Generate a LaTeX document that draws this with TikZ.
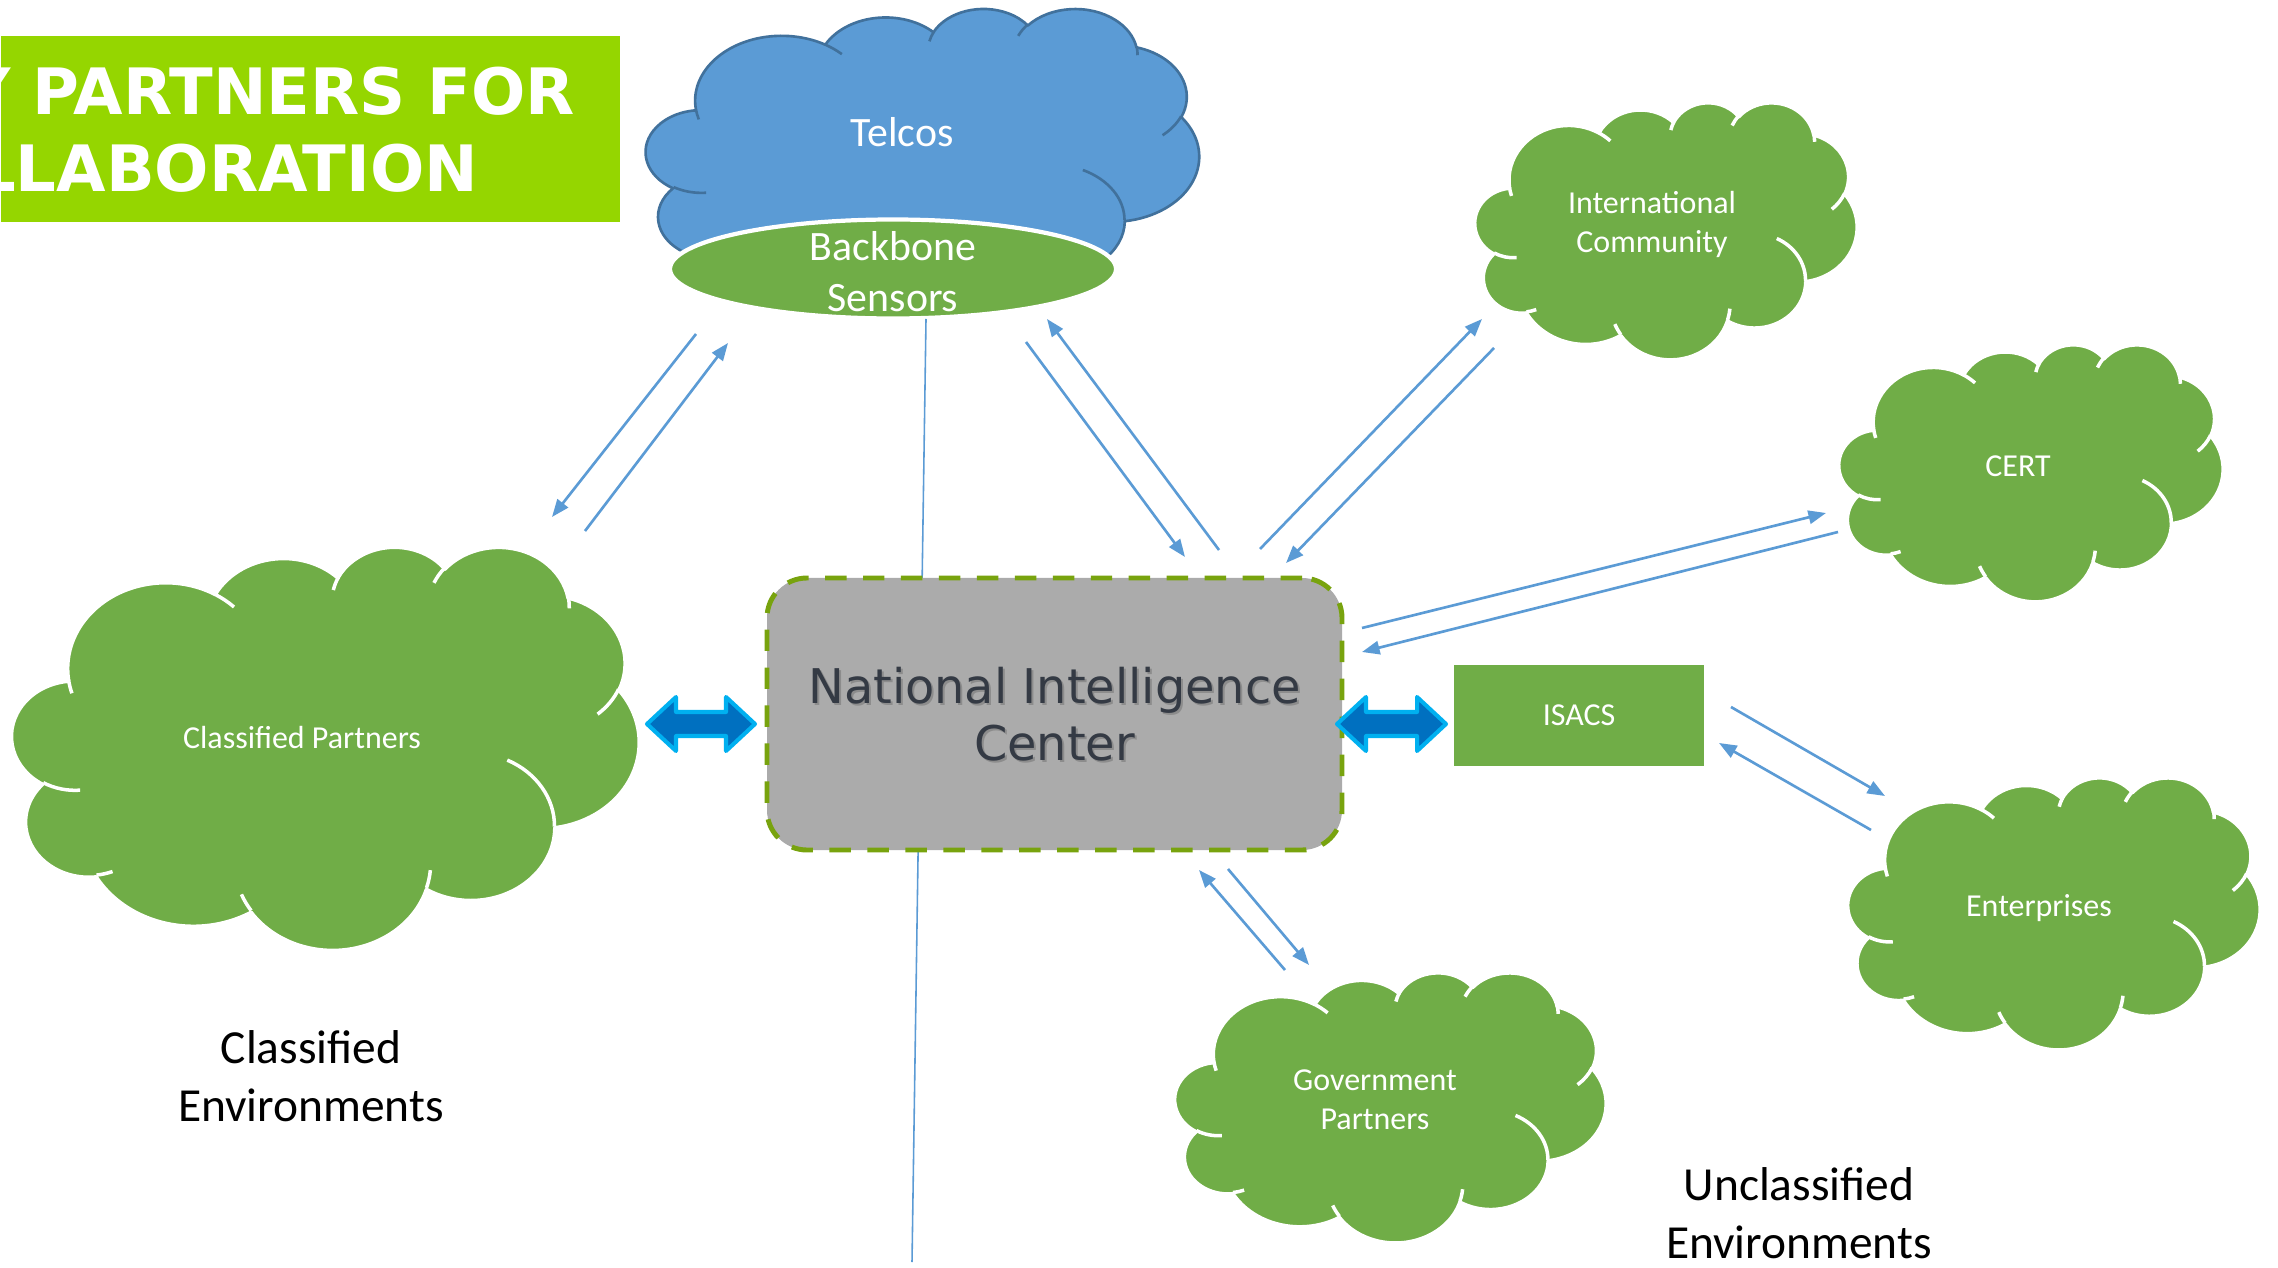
\documentclass[tikz,border=0pt]{standalone}
\usepackage{fontspec}
\setmainfont{Carlito}
\newfontfamily\hubfont{DejaVu Sans}
\usetikzlibrary{arrows.meta,shapes.geometric}

\definecolor{bannergreen}{HTML}{95D600}
\definecolor{leafgreen}{HTML}{70AD47}
\definecolor{skyblue}{HTML}{5B9BD5}
\definecolor{skyedge}{HTML}{41719C}
\definecolor{hubgray}{HTML}{ABABAB}
\definecolor{hubdash}{HTML}{78A30E}
\definecolor{hubtext}{HTML}{343A44}
\definecolor{pipefill}{HTML}{0070C0}
\definecolor{pipeedge}{HTML}{00B0F0}

% Cloud outline built from elliptical arcs in a 43.2 x 43.2 box, y pointing down.
% Arguments: name, x radius, y radius, start angle, sweep (angles measured on the ellipse as seen).
\newcommand\defcloudarc[5]{%
  \pgfmathsetmacro\cloudtA{atan2(#2*sin(#4),#3*cos(#4))}%
  \pgfmathsetmacro\cloudtB{atan2(#2*sin(#4+#5),#3*cos(#4+#5))}%
  \pgfmathsetmacro\cloudtD{\cloudtB-\cloudtA}%
  \pgfmathsetmacro\cloudtD{\cloudtD+360*(\cloudtD<0)}%
  \expandafter\xdef\csname cloudarc#1\endcsname{arc[start angle=\cloudtA,delta angle=\cloudtD,x radius=#2,y radius=#3]}%
}
% Inner crease: name, start x, start y, x radius, y radius, start angle, sweep.
\newcommand\defcloudcrease[7]{%
  \pgfmathsetmacro\cloudtA{atan2(#4*sin(#6),#5*cos(#6))}%
  \pgfmathsetmacro\cloudtB{atan2(#4*sin(#6+#7),#5*cos(#6+#7))}%
  \pgfmathsetmacro\cloudtD{\cloudtB-\cloudtA}%
  \pgfmathsetmacro\cloudtD{\cloudtD+360*(\cloudtD<0)}%
  \expandafter\xdef\csname cloudcrease#1\endcsname{(#2,#3) arc[start angle=\cloudtA,delta angle=\cloudtD,x radius=#4,y radius=#5]}%
}
\defcloudarc{A}{6.753}{9.190}{-190.48748}{123.78053}
\defcloudarc{B}{5.333}{7.267}{-144.10238}{89.94523}
\defcloudarc{C}{4.365}{5.945}{-145.80792}{99.72302}
\defcloudarc{D}{4.857}{6.595}{-130.98607}{117.24173}
\defcloudarc{E}{5.333}{7.273}{-78.70888}{109.02692}
\defcloudarc{F}{6.775}{9.220}{-46.26725}{130.26900}
\defcloudarc{G}{5.785}{7.867}{0.62502}{114.03333}
\defcloudarc{H}{6.752}{9.215}{22.45160}{115.17255}
\defcloudarc{I}{7.720}{10.543}{66.24263}{75.71102}
\defcloudarc{J}{4.360}{5.918}{-274.94208}{146.73557}
\defcloudarc{K}{4.345}{5.945}{-246.82850}{152.51885}

\defcloudcrease{A}{4.693}{26.177}{4.345}{5.945}{86.74200}{26.42950}
\defcloudcrease{B}{6.928}{34.899}{4.360}{5.918}{73.61047}{11.44747}
\defcloudcrease{C}{16.478}{39.090}{6.752}{9.215}{137.62415}{14.08110}
\defcloudcrease{D}{28.827}{34.751}{6.752}{9.215}{6.45327}{15.99835}
\defcloudcrease{E}{34.129}{22.954}{5.785}{7.867}{-70.29235}{70.91737}
\defcloudcrease{F}{41.798}{15.354}{5.333}{7.273}{30.31803}{27.75150}
\defcloudcrease{G}{38.324}{5.426}{4.857}{6.595}{-13.74433}{14.85890}
\defcloudcrease{H}{29.078}{3.952}{4.857}{6.595}{-149.18145}{18.19537}
\defcloudcrease{I}{22.141}{4.720}{4.365}{5.945}{-163.49427}{17.68635}
\defcloudcrease{J}{14.000}{5.192}{6.753}{9.190}{-66.70695}{12.31935}
\defcloudcrease{K}{4.127}{15.789}{6.753}{9.190}{157.65435}{11.85817}

\def\cloudoutline{(3.9,14.37) \cloudarcA \cloudarcB \cloudarcC \cloudarcD \cloudarcE \cloudarcF \cloudarcG \cloudarcH \cloudarcI \cloudarcJ \cloudarcK -- cycle}
\def\cloudcreases{\cloudcreaseA \cloudcreaseB \cloudcreaseC \cloudcreaseD \cloudcreaseE \cloudcreaseF \cloudcreaseG \cloudcreaseH \cloudcreaseI \cloudcreaseJ \cloudcreaseK}

% A cloud in the frame left, top, width, height (pixels), with fill and stroke styles
\newcommand\drawcloud[6]{%
  \begin{scope}[shift={(#1/100,-#2/100)},xscale=#3/4320,yscale=-#4/4320]
    \fill[#5] \cloudoutline;
    \draw[#6,line join=round] \cloudoutline;
    \draw[#6] \cloudcreases;
  \end{scope}}

% Two-headed block arrow from x #1 to x #2 at height #3 (cm)
\newcommand\twoway[3]{%
  \filldraw[pipe] (#1,#3) -- (#1+0.29,#3+0.27) -- (#1+0.29,#3+0.12) -- (#2-0.29,#3+0.12)
    -- (#2-0.29,#3+0.27) -- (#2,#3) -- (#2-0.29,#3-0.27) -- (#2-0.29,#3-0.12)
    -- (#1+0.29,#3-0.12) -- (#1+0.29,#3-0.27) -- cycle;}

\tikzset{
  pipe/.style={fill=pipefill,draw=pipeedge,line width=1.15pt,line join=round},
  link/.style={draw=skyblue,line width=0.75pt,-{Triangle[length=5pt,width=3.8pt]}},
  cloudlabel/.style={text=white,align=center,inner sep=0,font=\fontsize{9.1}{11.1}\selectfont},
  biglabel/.style={text=white,align=center,inner sep=0,font=\fontsize{11.9}{14.5}\selectfont},
  envlabel/.style={text=black,align=center,inner sep=0,font=\fontsize{13.5}{16.5}\selectfont},
  bannertext/.style={anchor=base east,inner sep=0,text=white,font=\hubfont\bfseries\fontsize{18.2}{22}\selectfont},
  greencloud/.style={fill=leafgreen},
  greenseam/.style={draw=white,line width=1pt},
}

\begin{document}
\begin{tikzpicture}
\useasboundingbox (0,0) rectangle (22.78,-12.68);
\fill[white] (0,0) rectangle (22.78,-12.68);

% title banner
\begin{scope}
  \clip (0,0) rectangle (22.78,-12.68);
  \node[fill=bannergreen,minimum width=6.19cm,minimum height=1.86cm,inner sep=0,anchor=north west] (banner) at (0,-0.35) {};
  \node[bannertext] (bannerA) at (5.76,-1.15) {KEY PARTNERS FOR};
  \node[bannertext] (bannerB) at (4.79,-1.92) {COLLABORATION};
\end{scope}

% telcos cloud with backbone sensors
\drawcloud{646}{8}{553}{305}{fill=skyblue}{draw=skyedge,line width=0.75pt}
\node[ellipse,fill=leafgreen,draw=white,line width=1.2pt,minimum width=4.46cm,minimum height=0.99cm,inner sep=0] (sensors) at (8.93,-2.69) {};
\node[biglabel] (telcos) at (9.02,-1.32) {Telcos};
\node[biglabel] (sensorstext) at (8.93,-2.72) {Backbone\\Sensors};

% line running down behind the center
\coordinate (spinetop) at (9.26,-3.19);
\coordinate (spinebottom) at (9.12,-12.62);
\draw[skyblue,line width=0.45pt] (spinetop) -- (spinebottom);

% partner clouds
\drawcloud{12}{546}{627}{403}{greencloud}{greenseam}
\drawcloud{1475}{102}{382}{257}{greencloud}{greenseam}
\drawcloud{1839}{344}{384}{257}{greencloud}{greenseam}
\drawcloud{1848}{777}{412}{272}{greencloud}{greenseam}
\drawcloud{1175}{972}{431}{270}{greencloud}{greenseam}

\node[cloudlabel] (classified) at (3.02,-7.38) {Classified Partners};
\node[cloudlabel] (intl) at (16.52,-2.24) {International\\Community};
\node[cloudlabel] (cert) at (20.18,-4.66) {CERT};
\node[cloudlabel] (enterprises) at (20.39,-9.08) {Enterprises};
\node[cloudlabel] (gov) at (13.75,-11.0) {Government\\Partners};

% national intelligence center
\node[rectangle,rounded corners=0.4cm,fill=hubgray,draw=hubdash,line width=1.4pt,
      dash pattern=on 6.1pt off 4.7pt,minimum width=5.75cm,minimum height=2.72cm] (hub) at (10.545,-7.14) {};
\node[align=center,inner sep=0,text=black!45,font=\hubfont\fontsize{13.6}{16.2}\selectfont]
  (hubshadow) at ([shift={(0.02,-0.025)}]hub.center) {National Intelligence\\Center};
\node[align=center,inner sep=0,text=hubtext,font=\hubfont\fontsize{13.6}{16.2}\selectfont]
  (hubtitle) at (hub.center) {National Intelligence\\Center};

% ISACS
\node[fill=leafgreen,minimum width=2.50cm,minimum height=1.01cm,inner sep=0,text=white,
      font=\fontsize{9.1}{11.1}\selectfont] (isacs) at (15.79,-7.155) {ISACS};

% block arrows on both sides of the center
\twoway{6.47}{7.55}{-7.24}
\twoway{13.37}{14.46}{-7.24}

% paired flow arrows
\coordinate (a1) at (6.96,-3.34);  \coordinate (a2) at (5.52,-5.17);
\coordinate (b1) at (5.85,-5.31);  \coordinate (b2) at (7.28,-3.43);
\coordinate (c1) at (10.26,-3.42); \coordinate (c2) at (11.85,-5.57);
\coordinate (d1) at (12.19,-5.50); \coordinate (d2) at (10.47,-3.19);
\coordinate (e1) at (12.60,-5.49); \coordinate (e2) at (14.82,-3.19);
\coordinate (f1) at (14.94,-3.48); \coordinate (f2) at (12.86,-5.63);
\coordinate (g1) at (13.62,-6.28); \coordinate (g2) at (18.26,-5.13);
\coordinate (h1) at (18.38,-5.32); \coordinate (h2) at (13.62,-6.52);
\coordinate (i1) at (17.31,-7.07); \coordinate (i2) at (18.85,-7.96);
\coordinate (j1) at (18.71,-8.30); \coordinate (j2) at (17.19,-7.43);
\coordinate (k1) at (12.28,-8.69); \coordinate (k2) at (13.09,-9.65);
\coordinate (l1) at (12.85,-9.70); \coordinate (l2) at (11.99,-8.70);
\foreach \p in {a,b,c,d,e,f,g,h,i,j,k,l}
  \draw[link] (\p1) -- (\p2);

% environment captions
\node[envlabel] (classenv) at (3.11,-10.76) {Classified\\Environments};
\node[envlabel] (unclassenv) at (17.99,-12.13) {Unclassified\\Environments};
\end{tikzpicture}
\end{document}
